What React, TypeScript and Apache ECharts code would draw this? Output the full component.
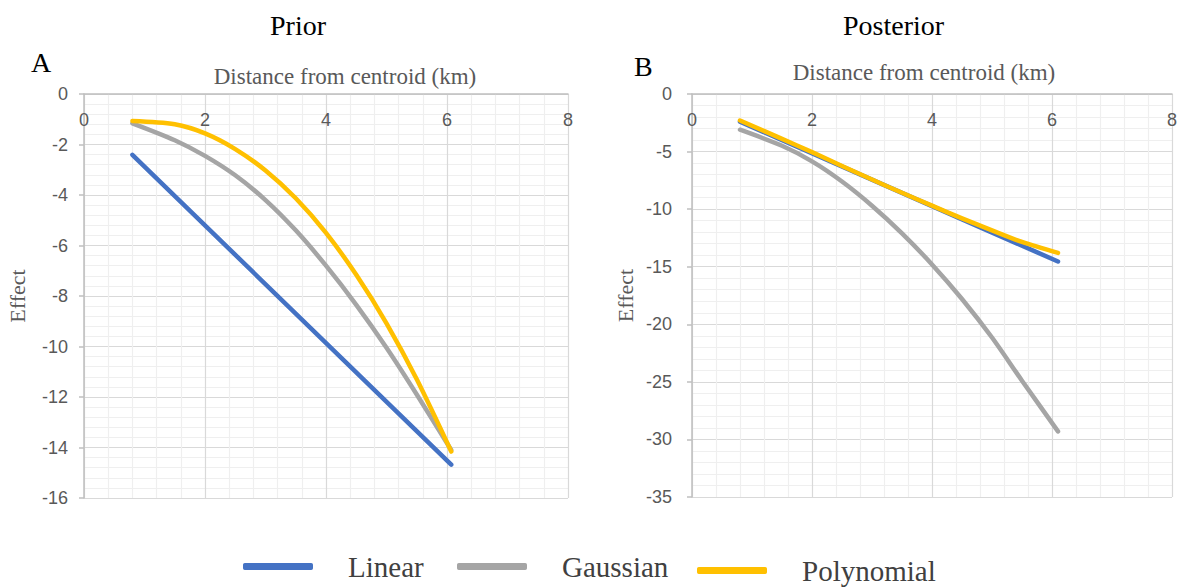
import React, { useEffect, useRef } from "react";
import * as echarts from "echarts";

// ---- Data ----
const seriesNames = ["Linear", "Gaussian", "Polynomial"];
const seriesColors = ["#4472C4", "#A5A5A5", "#FFC000"];

// Panel A: Prior
const priorLinearX = [0.8, 6.07];
const priorLinearY = [-2.41, -14.68];
const priorCurveX = [0.8, 1.5, 2.0, 2.5, 3.0, 3.5, 4.0, 4.5, 5.0, 5.5, 6.07];
const priorGaussianY = [-1.16, -1.83, -2.45, -3.22, -4.2, -5.4, -6.8, -8.35, -10.05, -11.9, -14.1];
const priorPolynomialY = [-1.07, -1.2, -1.56, -2.18, -3.03, -4.13, -5.5, -7.16, -9.08, -11.3, -14.16];

// Panel B: Posterior
const postLinearX = [0.8, 6.1];
const postLinearY = [-2.4, -14.55];
const postCurveX = [0.8, 1.5, 2.0, 2.5, 3.0, 3.5, 4.0, 4.5, 5.0, 5.5, 6.1];
const postGaussianY = [-3.1, -4.5, -5.85, -7.6, -9.7, -12.1, -14.8, -17.8, -21.15, -24.9, -29.3];
const postPolynomialY = [-2.3, -3.9, -5.05, -6.25, -7.43, -8.58, -9.7, -10.8, -11.85, -12.85, -13.8];

const xTicks = [0, 2, 4, 6, 8];
const panelTitles = ["Prior", "Posterior"];
const panelLetters = ["A", "B"];
const xAxisTitle = "Distance from centroid (km)";
const yAxisTitle = "Effect";

const zip = (xs: number[], ys: number[]) => xs.map((x, i) => [x, ys[i]]);

const TEXT = "#595959";
const SERIF = "'Liberation Serif', 'Times New Roman', serif";
const SANS = "'Liberation Sans', Arial, sans-serif";

function makeXAxis(gridIndex: number, namePad: number[]) {
  return {
    type: "value",
    gridIndex,
    position: "top",
    min: xTicks[0],
    max: xTicks[xTicks.length - 1],
    interval: 2,
    name: xAxisTitle,
    nameLocation: "middle",
    nameGap: gridIndex === 0 ? 6 : 10,
    nameTextStyle: { fontFamily: SERIF, fontSize: 23, color: TEXT, padding: namePad },
    axisLine: { show: true, onZero: false, lineStyle: { color: "#bfbfbf", width: 1.5 } },
    axisTick: { show: false },
    axisLabel: { inside: true, margin: 17, color: TEXT, fontFamily: SANS, fontSize: 18 },
    splitLine: { show: true, lineStyle: { color: "#d9d9d9", width: 1.2 } },
    minorTick: { show: false, splitNumber: 5 },
    minorSplitLine: { show: true, lineStyle: { color: "#efefef", width: 1.2 } },
  };
}

function makeYAxis(gridIndex: number, min: number, interval: number, margin: number) {
  return {
    type: "value",
    gridIndex,
    min,
    max: 0,
    interval,
    name: yAxisTitle,
    nameLocation: "middle",
    nameGap: 56,
    nameTextStyle: { fontFamily: SERIF, fontSize: 22, color: TEXT },
    axisLine: { show: true, onZero: false, lineStyle: { color: "#bfbfbf", width: 1.5 } },
    axisTick: { show: true, length: 5, lineStyle: { color: "#bfbfbf", width: 1.5 } },
    axisLabel: { margin, color: TEXT, fontFamily: SANS, fontSize: 18 },
    splitLine: { show: true, lineStyle: { color: "#d9d9d9", width: 1.2 } },
    minorTick: { show: false, splitNumber: 5 },
    minorSplitLine: { show: true, lineStyle: { color: "#efefef", width: 1.2 } },
  };
}

function lineSeries(name: string, idx: number, data: number[][], color: string) {
  return {
    name,
    type: "line",
    xAxisIndex: idx,
    yAxisIndex: idx,
    data,
    smooth: 0.3,
    showSymbol: false,
    symbol: "none",
    color,
    lineStyle: { color, width: 4.5, cap: "round", join: "round" },
    z: name === "Polynomial" ? 4 : name === "Gaussian" ? 3 : 2,
  };
}

export default function App() {
  const ref = useRef<HTMLDivElement>(null);

  useEffect(() => {
    if (!ref.current) return;
    const chart = echarts.init(ref.current, undefined, { renderer: "svg" });

    const legendLefts = [238, 452, 692];
    const legendTops = [547, 547, 551];
    const legends = seriesNames.map((n, i) => ({
      data: [n],
      left: legendLefts[i],
      top: legendTops[i],
      orient: "horizontal",
      icon: "roundRect",
      itemWidth: 70,
      itemHeight: 7,
      selectedMode: false,
      textStyle: { fontFamily: SERIF, fontSize: 29, color: "#404040", padding: [0, 0, 0, 30] },
    }));

    const option = {
      animation: false,
      backgroundColor: "#ffffff",
      grid: [
        { left: 84, right: 612, top: 94, bottom: 90, containLabel: false },
        { left: 692, right: 4, top: 94, bottom: 91, containLabel: false },
      ],
      xAxis: [makeXAxis(0, [0, 0, 0, 38]), makeXAxis(1, [0, 16, 0, 0])],
      yAxis: [makeYAxis(0, -16, 2, 16), makeYAxis(1, -35, 5, 20)],
      legend: legends,
      graphic: [
        { type: "text", left: 270, top: 11, style: { text: panelTitles[0], font: `28px ${SERIF}`, fill: "#000" } },
        { type: "text", left: 843, top: 11, style: { text: panelTitles[1], font: `28px ${SERIF}`, fill: "#000" } },
        { type: "text", left: 31, top: 48, style: { text: panelLetters[0], font: `28px ${SERIF}`, fill: "#000" } },
        { type: "text", left: 634, top: 52, style: { text: panelLetters[1], font: `28px ${SERIF}`, fill: "#000" } },
      ],
      series: [
        lineSeries(seriesNames[0], 0, zip(priorLinearX, priorLinearY), seriesColors[0]),
        lineSeries(seriesNames[1], 0, zip(priorCurveX, priorGaussianY), seriesColors[1]),
        lineSeries(seriesNames[2], 0, zip(priorCurveX, priorPolynomialY), seriesColors[2]),
        lineSeries(seriesNames[0], 1, zip(postLinearX, postLinearY), seriesColors[0]),
        lineSeries(seriesNames[1], 1, zip(postCurveX, postGaussianY), seriesColors[1]),
        lineSeries(seriesNames[2], 1, zip(postCurveX, postPolynomialY), seriesColors[2]),
      ],
    };

    chart.setOption(option as any);
    return () => chart.dispose();
  }, []);

  return (
    <div
      ref={ref}
      style={{ position: "absolute", left: 0, top: 0, width: 1180, height: 588, background: "#fff" }}
    />
  );
}
